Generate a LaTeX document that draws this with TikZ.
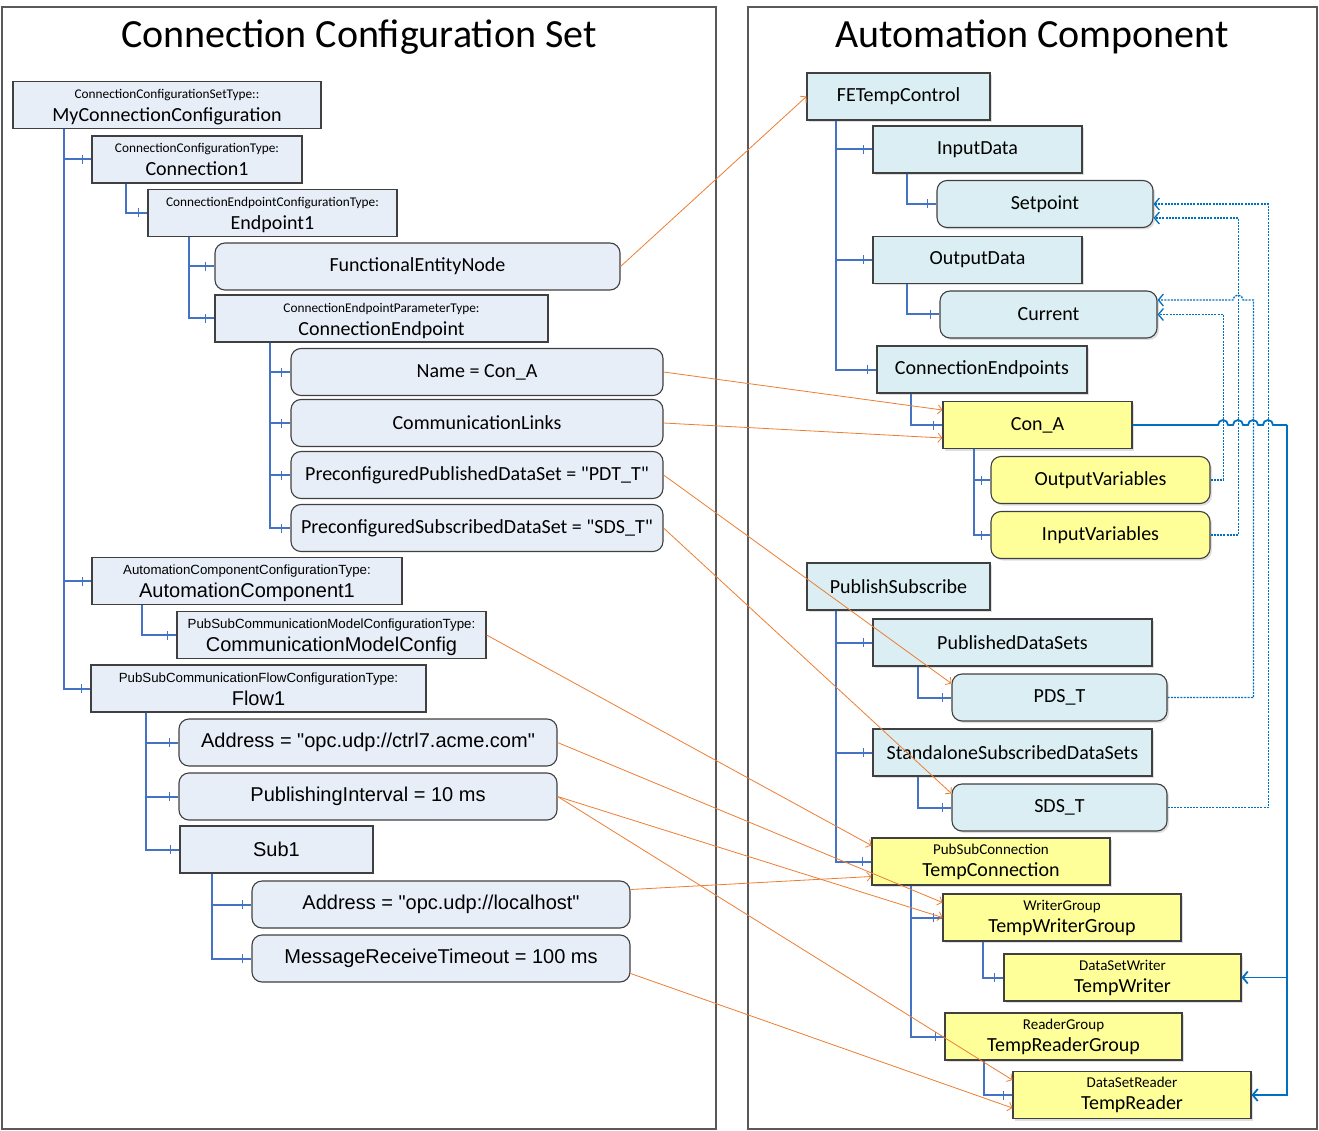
\documentclass[tikz,border=0pt]{standalone}
\usepackage{fontspec}
\setmainfont{Carlito}[Ligatures=TeXOff]
\newfontfamily\arialfont{Liberation Sans}
\usetikzlibrary{arrows.meta,decorations.markings,shadows}

\definecolor{nodeline}{HTML}{404040}
\definecolor{cfgfill}{HTML}{E8EEF8}
\definecolor{acfill}{HTML}{DAEEF3}
\definecolor{varfill}{HTML}{FFFF99}
\definecolor{treeblue}{HTML}{4472C4}
\definecolor{refblue}{HTML}{0070C0}
\definecolor{reforange}{HTML}{ED7D31}
\definecolor{framegray}{HTML}{595959}

\newcommand\typefont{\fontsize{13.3}{15}\selectfont}
\newcommand\acfont{\fontsize{15}{17}\selectfont}
\newcommand\namefont{\fontsize{20}{24}\selectfont}
\newcommand\titlefont{\fontsize{40}{44}\selectfont}
% type name over instance name
\newcommand\typed[2]{\rule{0pt}{14pt}{\typefont #1}\\[-1pt]#2\rule[-4pt]{0pt}{0pt}}

\begin{document}
\begin{tikzpicture}[x=1pt,y=-1pt]
		\tikzstyle{cfg}=[draw=nodeline,line width=1.1pt,fill=cfgfill,minimum height=47pt,inner sep=0pt,align=center,font=\namefont]
		\tikzstyle{cfgval}=[cfg,rounded corners=10pt]
		\tikzstyle{arial}=[font=\arialfont\namefont]
		\tikzstyle{ac}=[cfg,fill=acfill,drop shadow={shadow xshift=2pt,shadow yshift=-2pt,opacity=.25}]
		\tikzstyle{acval}=[ac,rounded corners=10pt]
		\tikzstyle{var}=[ac,fill=varfill]
		\tikzstyle{varval}=[var,rounded corners=10pt]
		\tikzstyle{panel}=[draw=framegray,line width=1.3pt]
		\tikzstyle{branch}=[draw=treeblue,line width=2pt,postaction={decorate,decoration={markings,mark=at position -9pt with {\draw[treeblue,line width=1.2pt] (0pt,-4.5pt) -- (0pt,4.5pt);}}}]
		\tikzstyle{ref}=[draw=reforange,line width=0.8pt,-{Straight Barb[length=4pt,width=9pt]}]
		\tikzstyle{varref}=[draw=refblue,line width=1.3pt,dash pattern=on 2pt off 1.2pt,-{Straight Barb[length=5pt,width=12pt]}]
		\tikzstyle{bus}=[draw=refblue,line width=1.8pt]

		\useasboundingbox (0,0) rectangle (1319,1131);
		\draw[panel] (2,7) rectangle (716,1129);
		\draw[panel] (748,7) rectangle (1317,1129);
		\node[font=\titlefont] (cfgTitle) at (359,37) {Connection Configuration Set};
		\node[font=\titlefont] (acTitle) at (1032,37) {Automation Component};

		% connection configuration set
		\node[cfg,minimum width=308pt] (root) at (167,105) {\typed{ConnectionConfigurationSetType::}{MyConnectionConfiguration}};
		\node[cfg,minimum width=210pt] (conn1) at (197,159.5) {\typed{ConnectionConfigurationType:}{Connection1}};
		\node[cfg,minimum width=249pt] (ep1) at (272.5,213) {\typed{ConnectionEndpointConfigurationType:}{Endpoint1}};
		\node[cfgval,minimum width=405pt] (fen) at (417.5,266.5) {FunctionalEntityNode};
		\node[cfg,minimum width=333pt] (cep) at (381.5,318.5) {\typed{ConnectionEndpointParameterType:}{ConnectionEndpoint}};
		\node[cfgval,minimum width=372pt] (cfgName) at (477,372) {Name = Con\_A};
		\node[cfgval,minimum width=372pt] (cfgLinks) at (477,423) {CommunicationLinks};
		\node[cfgval,minimum width=372pt] (cfgPubDS) at (477,475) {PreconfiguredPublishedDataSet = "PDT\_T"};
		\node[cfgval,minimum width=372pt] (cfgSubDS) at (477,528) {PreconfiguredSubscribedDataSet = "SDS\_T"};
		\node[cfg,arial,minimum width=310pt] (ac1) at (247,581) {\typed{AutomationComponentConfigurationType:}{AutomationComponent1}};
		\node[cfg,arial,minimum width=309pt] (cmc) at (331.5,635) {\typed{PubSubCommunicationModelConfigurationType:}{CommunicationModelConfig}};
		\node[cfg,arial,minimum width=335pt] (flow1) at (258.5,688.5) {\typed{PubSubCommunicationFlowConfigurationType:}{Flow1}};
		\node[cfgval,arial,minimum width=378pt] (addrA) at (368,742.5) {Address = "opc.udp://ctrl7.acme.com"};
		\node[cfgval,arial,minimum width=378pt] (pubint) at (368,796.5) {PublishingInterval = 10 ms};
		\node[cfg,arial,minimum width=193pt] (sub1) at (276.5,849.5) {Sub1};
		\node[cfgval,arial,minimum width=378pt] (addrB) at (441,904.5) {Address = "opc.udp://localhost"};
		\node[cfgval,arial,minimum width=378pt] (mrt) at (441,958.5) {MessageReceiveTimeout = 100 ms};

		% automation component
		\node[ac,minimum width=183pt] (fetc) at (898.5,96.5) {FETempControl};
		\node[ac,minimum width=209pt] (inData) at (977.5,149.5) {InputData};
		\node[acval,minimum width=216pt] (setpt) at (1045,204) {Setpoint};
		\node[ac,minimum width=209pt] (outData) at (977.5,260) {OutputData};
		\node[acval,minimum width=217pt] (current) at (1048.5,314.5) {Current};
		\node[ac,minimum width=210pt] (cendp) at (982,369.5) {ConnectionEndpoints};
		\node[var,minimum width=189pt] (cona) at (1037.5,425) {Con\_A};
		\node[varval,minimum width=219pt] (outVar) at (1100.5,480) {OutputVariables};
		\node[varval,minimum width=219pt] (inVar) at (1100.5,535) {InputVariables};
		\node[ac,minimum width=183pt] (pubsub) at (898.5,586.5) {PublishSubscribe};
		\node[ac,minimum width=279pt] (pds) at (1012.5,642.5) {PublishedDataSets};
		\node[acval,minimum width=215pt] (pdsT) at (1059.5,697.5) {PDS\_T};
		\node[ac,minimum width=279pt] (ssds) at (1012.5,752.5) {StandaloneSubscribedDataSets};
		\node[acval,minimum width=215pt] (sdsT) at (1059.5,807.5) {SDS\_T};
		\node[var,minimum width=238pt] (tconn) at (991,861.5) {{\acfont PubSubConnection}\\[-2pt]TempConnection};
		\node[var,minimum width=238pt] (twg) at (1062,917.5) {{\acfont WriterGroup}\\[-2pt]TempWriterGroup};
		\node[var,minimum width=237pt] (tw) at (1122.5,977.5) {{\acfont DataSetWriter}\\[-2pt]TempWriter};
		\node[var,minimum width=237pt] (trg) at (1063.5,1036.5) {{\acfont ReaderGroup}\\[-2pt]TempReaderGroup};
		\node[var,minimum width=238pt] (tr) at (1132,1095) {{\acfont DataSetReader}\\[-2pt]TempReader};

		% tree
		\foreach \p/\s/\c in {root/52/conn1,root/52/ac1,root/52/flow1,conn1/35/ep1,ep1/42/fen,ep1/42/cep,
				cep/56/cfgName,cep/56/cfgLinks,cep/56/cfgPubDS,cep/56/cfgSubDS,ac1/51/cmc,
				flow1/56/addrA,flow1/56/pubint,flow1/56/sub1,sub1/33/addrB,sub1/33/mrt,
				fetc/30/inData,fetc/30/outData,fetc/30/cendp,inData/35/setpt,outData/35/current,
				cendp/35/cona,cona/32/outVar,cona/32/inVar,pubsub/30/pds,pubsub/30/ssds,pubsub/30/tconn,
				pds/46/pdsT,ssds/46/sdsT,tconn/40/twg,tconn/40/trg,twg/41/tw,trg/40/tr}
			\draw[branch] ([xshift=\s pt]\p.south west) |- (\c.west);

		% references
		\draw[ref] (fen.east) -- (fetc.west);
		\draw[ref] (cfgName.east) -- ([yshift=15pt]cona.west);
		\draw[ref] (cfgLinks.east) -- ([yshift=-13pt]cona.west);
		\draw[ref] (cfgPubDS.east) -- ([yshift=14pt]pdsT.west);
		\draw[ref] (cfgSubDS.east) -- ([yshift=14pt]sdsT.west);
		\draw[ref] (cmc.east) -- ([yshift=16pt]tconn.west);
		\draw[ref] (addrA.east) -- ([yshift=15pt]twg.west);
		\draw[ref] (pubint.east) -- (twg.west);
		\draw[ref] (pubint.east) -- ([yshift=15pt]tr.west);
		\draw[ref] ([yshift=15pt]addrB.east) -- ([yshift=-15pt]tconn.west);
		\draw[ref] ([yshift=-15pt]mrt.east) -- ([yshift=-13pt]tr.west);

		\draw[varref] (outVar.east) -- ++(13,0) |- (current.east);
		\draw[varref] (inVar.east) -- ++(28,0) |- ([yshift=-14pt]setpt.east);
		\draw[varref] (pdsT.east) -- ++(86,0) |- (1243,300) arc[start angle=0,end angle=-180,radius=5] -- ([yshift=14.5pt]current.east);
		\draw[varref] (sdsT.east) -- ++(101,0) |- (setpt.east);

		\coordinate (busTop) at (1287,425);
		\draw[bus] (cona.east) -- (1218,425) arc[start angle=180,end angle=360,radius=5]
			-- (1233,425) arc[start angle=180,end angle=360,radius=5]
			-- (1248,425) arc[start angle=180,end angle=360,radius=5]
			-- (1263,425) arc[start angle=180,end angle=360,radius=5] -- (busTop);
		\draw[bus,-{Straight Barb[length=5pt,width=12pt]}] (busTop) |- (tw.east);
		\draw[bus,-{Straight Barb[length=5pt,width=12pt]}] (busTop) |- (tr.east);
\end{tikzpicture}
\end{document}
